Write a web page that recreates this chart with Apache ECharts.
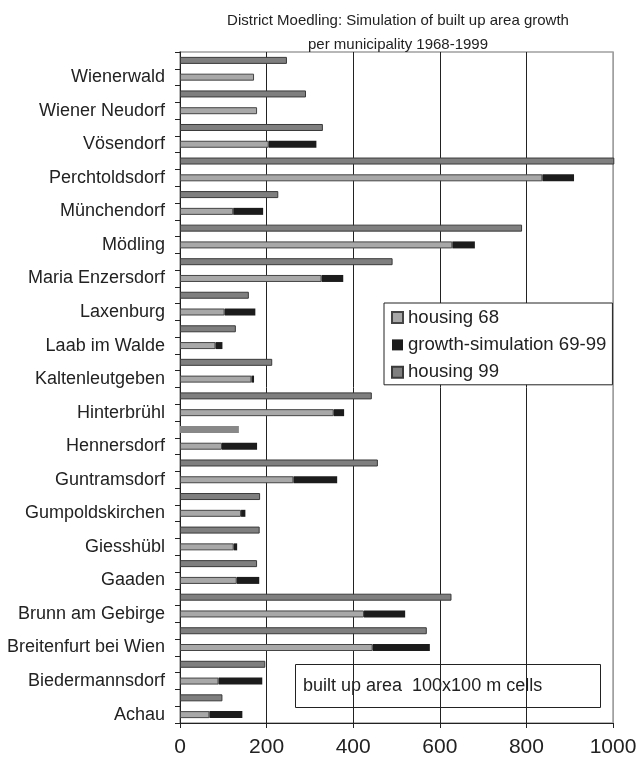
<!DOCTYPE html>
<html>
<head>
<meta charset="utf-8">
<script src="https://cdn.jsdelivr.net/npm/echarts@6/dist/echarts.min.js"></script>
<style>
  html, body { margin: 0; padding: 0; background: #fff; }
  #chart { width: 638px; height: 767px; }
</style>
</head>
<body>
<div id="chart"></div>
<script>
// Municipalities of the Mödling district, listed from the bottom of the axis upwards
const municipalities = [
  'Achau', 'Biedermannsdorf', 'Breitenfurt bei Wien', 'Brunn am Gebirge', 'Gaaden',
  'Giesshübl', 'Gumpoldskirchen', 'Guntramsdorf', 'Hennersdorf', 'Hinterbrühl',
  'Kaltenleutgeben', 'Laab im Walde', 'Laxenburg', 'Maria Enzersdorf', 'Mödling',
  'Münchendorf', 'Perchtoldsdorf', 'Vösendorf', 'Wiener Neudorf', 'Wienerwald'
];

// Built up area, counted in 100x100 m cells
const housing68 = [68, 89, 445, 425, 131, 124, 141, 262, 97, 355, 165, 82, 103, 327, 629, 123, 837, 205, 178, 171];
const growthSim = [76, 101, 132, 95, 52, 8, 10, 101, 81, 24, 6, 16, 71, 50, 52, 69, 73, 110, 0, 0];
const housing99 = [98, 197, 570, 627, 178, 184, 185, 457, 136, 443, 213, 129, 159, 491, 790, 227, 1003, 330, 291, 247];

const xTicks = [0, 200, 400, 600, 800, 1000];

const seriesNames = ['housing 68', 'growth-simulation 69-99', 'housing 99'];

// The 1999 bar of Hennersdorf is drawn flat, without an outline
const flat99 = ['Hennersdorf'];

// Each municipality gets two rows: the 1968 + simulated growth row, and the 1999 row above it
const rows = [];
const rows68 = [], rowsGrowth = [], rows99 = [];
municipalities.forEach((m, i) => {
  rows.push(m);
  rows68.push(housing68[i]);
  rowsGrowth.push(growthSim[i]);
  rows99.push(null);
  rows.push(m + ' 1999');
  rows68.push(null);
  rowsGrowth.push(null);
  rows99.push(flat99.includes(m)
    ? { value: housing99[i], itemStyle: { color: '#888888', borderWidth: 0 } }
    : housing99[i]);
});

const FONT = '"Liberation Sans", Arial, Helvetica, sans-serif';
const chart = echarts.init(document.getElementById('chart'), null, { renderer: 'canvas' });

chart.setOption({
  animation: false,
  backgroundColor: '#fff',
  title: {
    text: 'District Moedling: Simulation of built up area growth\nper municipality 1968-1999',
    left: 393,
    top: 4,
    textAlign: 'center',
    textStyle: { fontFamily: FONT, fontSize: 15, fontWeight: 'normal', color: '#222', lineHeight: 24 }
  },
  grid: {
    left: 180, right: 25, top: 52, bottom: 44,
    outerBoundsMode: 'none', containLabel: false,
    show: true, borderColor: '#a0a0a0', borderWidth: 1.5, backgroundColor: '#fff'
  },
  legend: {
    data: seriesNames,
    orient: 'vertical',
    left: 384, top: 303,
    padding: [5, 6, 3, 7],
    itemWidth: 11, itemHeight: 11, itemGap: 8.4,
    icon: 'rect',
    backgroundColor: '#fff',
    borderColor: '#222', borderWidth: 1,
    textStyle: { fontFamily: FONT, fontSize: 18.6, color: '#222', lineHeight: 18 }
  },
  xAxis: {
    type: 'value',
    min: xTicks[0], max: xTicks[xTicks.length - 1], interval: 200,
    axisLine: { show: true, lineStyle: { color: '#222', width: 1 } },
    axisTick: { show: true, length: 5, lineStyle: { color: '#222' } },
    axisLabel: { fontFamily: FONT, fontSize: 21, color: '#222', margin: 14,
                 formatter: (v) => String(v) },
    splitLine: { show: true, lineStyle: { color: ['#222', '#222', '#222', '#222', '#222', '#a0a0a0'], width: 1 } }
  },
  yAxis: {
    type: 'category',
    data: rows,
    axisLine: { show: true, lineStyle: { color: '#222', width: 1 } },
    axisTick: { show: true, interval: 0, length: 5, lineStyle: { color: '#222' } },
    axisLabel: {
      interval: (idx) => idx % 2 === 0,
      fontFamily: FONT, fontSize: 18, color: '#222', margin: 15
    },
    splitLine: { show: false }
  },
  series: [
    {
      name: seriesNames[0], type: 'bar', stack: 'sim', data: rows68,
      barWidth: 7, barGap: '-100%',
      itemStyle: { color: '#a8a8a8', borderColor: '#454545', borderWidth: 1 }
    },
    {
      name: seriesNames[1], type: 'bar', stack: 'sim', data: rowsGrowth,
      barWidth: 7, barGap: '-100%',
      itemStyle: { color: '#1c1c1c' }
    },
    {
      name: seriesNames[2], type: 'bar', data: rows99,
      barWidth: 7, barGap: '-100%', clip: false,
      itemStyle: { color: '#7f7f7f', borderColor: '#3a3a3a', borderWidth: 1 }
    }
  ],
  graphic: [
    {
      type: 'group', z: 100,
      children: [
        { type: 'rect', shape: { x: 295.5, y: 664.5, width: 305, height: 43 },
          style: { fill: '#fff', stroke: '#222', lineWidth: 1 } },
        { type: 'text', x: 303, y: 686.5,
          style: { text: 'built up area  100x100 m cells', fontFamily: FONT, fontSize: 18,
                   fill: '#222', verticalAlign: 'middle', align: 'left' } }
      ]
    }
  ]
});
</script>
</body>
</html>
